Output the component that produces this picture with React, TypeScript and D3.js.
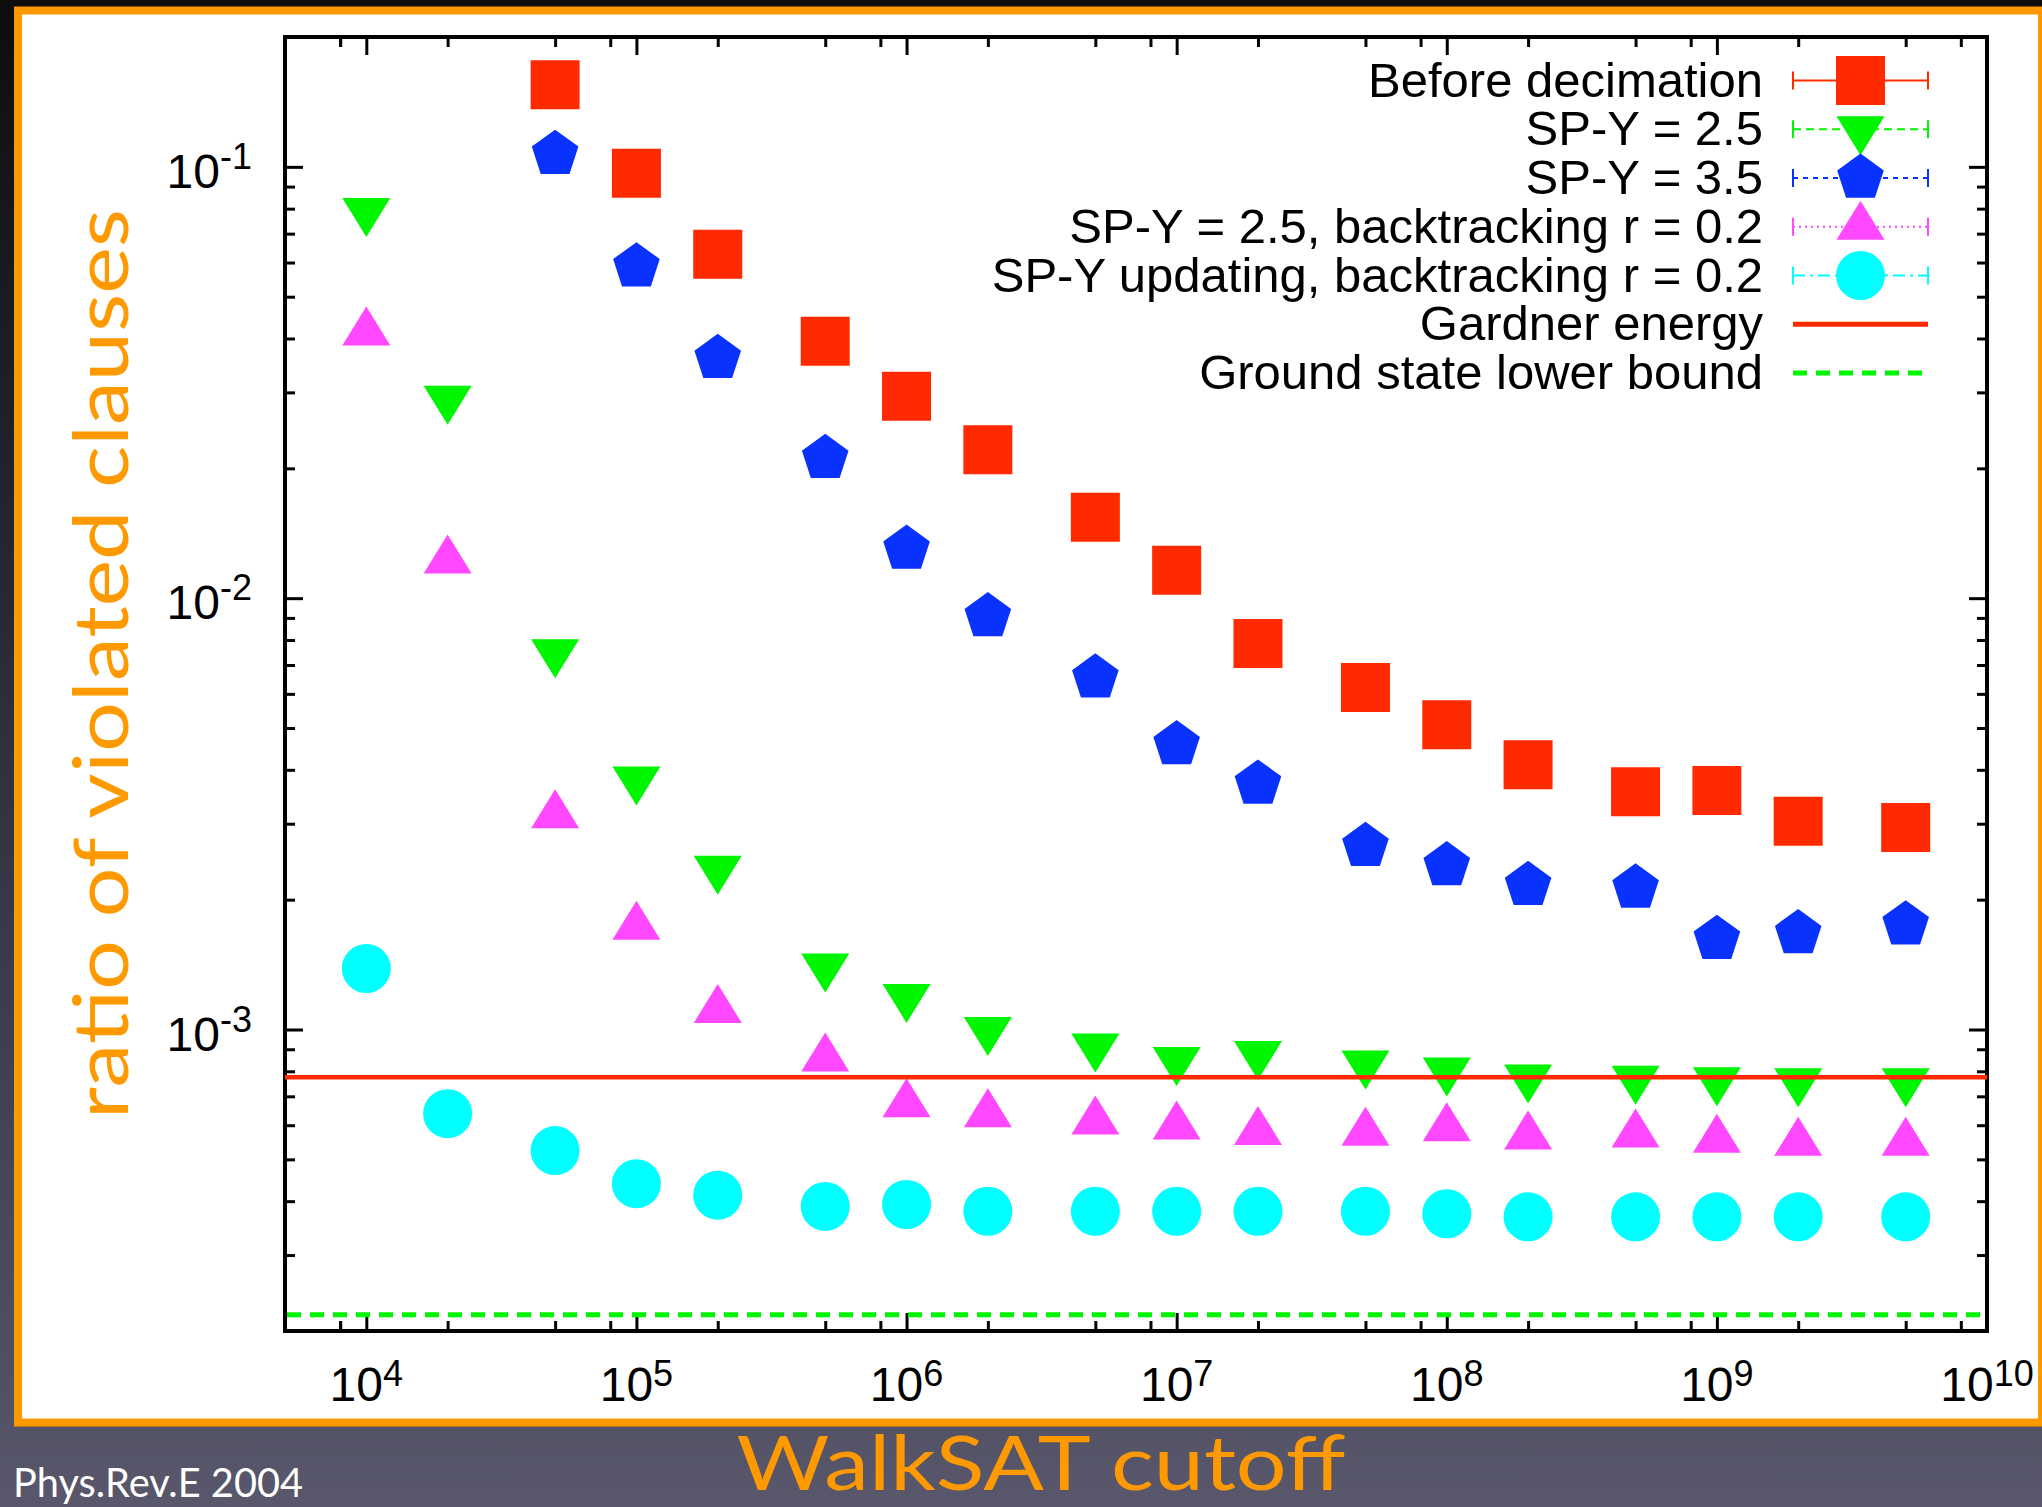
import React, { useEffect, useRef } from 'react';
import * as d3 from 'd3';

// WalkSAT cutoff values at which the runs were measured
const cutoffs = [1e4, 2e4, 5e4, 1e5, 2e5, 5e5, 1e6, 2e6, 5e6, 1e7, 2e7, 5e7, 1e8, 2e8, 5e8, 1e9, 2e9, 5e9];
// these two series start at 5e4
const cutoffsLate = cutoffs.slice(2);

const beforeDecimation = [0.155, 0.0966, 0.0627, 0.0394, 0.0294, 0.0221, 0.0154, 0.0116, 0.00785, 0.00621,
  0.00509, 0.00411, 0.00356, 0.00358, 0.00304, 0.00294];
const spy35 = [0.107, 0.0587, 0.036, 0.0211, 0.013, 0.00907, 0.00654, 0.00458, 0.00371, 0.00266,
  0.0024, 0.00216, 0.00213, 0.00162, 0.00167, 0.00175];
const spy25 = [0.079, 0.029, 0.00749, 0.0038, 0.00236, 0.0014, 0.00119, 0.000997, 0.000913, 0.00085,
  0.000877, 0.000834, 0.000803, 0.000774, 0.000769, 0.000763, 0.000759, 0.000759];
const spy25Backtrack = [0.0413, 0.01223, 0.00314, 0.00173, 0.00111, 0.000857, 0.000671, 0.000636, 0.000612, 0.000596,
  0.000579, 0.000576, 0.00059, 0.000565, 0.000571, 0.000555, 0.000546, 0.000546];
const spyUpdating = [0.001385, 0.000638, 0.000524, 0.000439, 0.000413, 0.000389, 0.000393, 0.000379, 0.000379, 0.000379,
  0.000379, 0.000379, 0.000374, 0.000368, 0.000368, 0.000368, 0.000368, 0.000368];

const gardnerEnergy = 0.000775;
const groundLowerBound = 0.000218;

const xMajorTicks = [1e4, 1e5, 1e6, 1e7, 1e8, 1e9, 1e10];
const xTickExponents = ['4', '5', '6', '7', '8', '9', '10'];
const yMajorTicks = [1e-3, 1e-2, 1e-1];
const yTickExponents = ['-3', '-2', '-1'];

const legendLabels = [
  'Before decimation',
  'SP-Y = 2.5',
  'SP-Y = 3.5',
  'SP-Y = 2.5, backtracking r = 0.2',
  'SP-Y updating, backtracking r = 0.2',
  'Gardner energy',
  'Ground state lower bound',
];

const W = 2042;
const H = 1507;
const plot = { left: 285, right: 1987, top: 37, bottom: 1331 };
const helv = '"Liberation Sans", Arial, Helvetica, sans-serif';
const orange = '#ff9900';

const colors = {
  red: '#ff2a00',
  green: '#00f500',
  blue: '#0a32ff',
  magenta: '#ff48ff',
  cyan: '#00ffff',
};

// marker shapes, centred the way gnuplot centres them
const square = (cx: number, cy: number) => {
  const h = 24.5;
  return `M${cx - h},${cy - h}H${cx + h}V${cy + h}H${cx - h}Z`;
};
const triDown = (cx: number, cy: number) =>
  `M${cx - 24},${cy - 13}L${cx + 24},${cy - 13}L${cx},${cy + 26}Z`;
const triUp = (cx: number, cy: number) =>
  `M${cx - 24},${cy + 13}L${cx + 24},${cy + 13}L${cx},${cy - 26}Z`;
const pentagon = (cx: number, cy: number) => {
  const r = 24.5;
  const pts = d3.range(5).map(k => {
    const a = -Math.PI / 2 + (k * 2 * Math.PI) / 5;
    return `${cx + r * Math.cos(a)},${cy + r * Math.sin(a)}`;
  });
  return `M${pts.join('L')}Z`;
};
const circle = (cx: number, cy: number) => {
  const r = 24.5;
  return `M${cx - r},${cy}A${r},${r} 0 1,0 ${cx + r},${cy}A${r},${r} 0 1,0 ${cx - r},${cy}Z`;
};

export default function App() {
  const ref = useRef<SVGSVGElement>(null);

  useEffect(() => {
    const svg = d3.select(ref.current);
    svg.selectAll('*').remove();

    const x = d3.scaleLog().domain([5000, 1e10]).range([plot.left, plot.right]);
    const y = d3.scaleLog().domain([2e-4, 0.2]).range([plot.bottom, plot.top]);

    // background + orange frame
    const grad = svg.append('defs').append('linearGradient')
      .attr('id', 'bg').attr('x1', 0).attr('y1', 0).attr('x2', 0).attr('y2', 1);
    grad.append('stop').attr('offset', '0').attr('stop-color', '#0d0d10');
    grad.append('stop').attr('offset', '0.45').attr('stop-color', '#2c2c3a');
    grad.append('stop').attr('offset', '1').attr('stop-color', '#58576b');
    svg.append('rect').attr('width', W).attr('height', H).attr('fill', 'url(#bg)');
    svg.append('rect')
      .attr('x', 18).attr('y', 10.5).attr('width', 2024).attr('height', 1412)
      .attr('fill', '#fff').attr('stroke', orange).attr('stroke-width', 8);

    // ticks, gnuplot style: pointing inwards on all four sides
    const xMinor = d3.merge([3, 4, 5, 6, 7, 8, 9].map(e => [2, 5, 8].map(m => m * 10 ** e)))
      .concat([8e3])
      .filter(v => v > 5000 && v < 1e10);
    const yMinor = d3.merge([-4, -3, -2, -1].map(e => d3.range(2, 10).map(m => m * 10 ** e)))
      .filter(v => v > 2.01e-4 && v < 0.199);

    const tidy = (g: any) => {
      g.select('.domain').remove();
      g.selectAll('text').remove();
      g.selectAll('line').attr('stroke', '#000').attr('stroke-width', 3);
    };
    const axes: [any, string][] = [
      [d3.axisBottom, `translate(0,${plot.bottom})`],
      [d3.axisTop, `translate(0,${plot.top})`],
    ];
    axes.forEach(([ax, tr]) => {
      svg.append('g').attr('transform', tr).call(ax(x).tickValues(xMajorTicks).tickSize(-18)).call(tidy);
      svg.append('g').attr('transform', tr).call(ax(x).tickValues(xMinor).tickSize(-10)).call(tidy);
    });
    const yAxes: [any, string][] = [
      [d3.axisLeft, `translate(${plot.left},0)`],
      [d3.axisRight, `translate(${plot.right},0)`],
    ];
    yAxes.forEach(([ax, tr]) => {
      svg.append('g').attr('transform', tr).call(ax(y).tickValues(yMajorTicks).tickSize(-18)).call(tidy);
      svg.append('g').attr('transform', tr).call(ax(y).tickValues(yMinor).tickSize(-10)).call(tidy);
    });

    svg.append('rect')
      .attr('x', plot.left).attr('y', plot.top)
      .attr('width', plot.right - plot.left).attr('height', plot.bottom - plot.top)
      .attr('fill', 'none').attr('stroke', '#000').attr('stroke-width', 4);

    // tick labels with superscript exponents
    xMajorTicks.forEach((v, i) => {
      const t = svg.append('text')
        .attr('x', x(v)).attr('y', 1401)
        .attr('text-anchor', 'middle')
        .attr('font-family', helv).attr('font-size', 48).attr('fill', '#000');
      t.append('tspan').text('10');
      t.append('tspan').attr('font-size', 36).attr('dy', -15).text(xTickExponents[i]);
    });
    yMajorTicks.forEach((v, i) => {
      const t = svg.append('text')
        .attr('x', 252).attr('y', y(v) + 21)
        .attr('text-anchor', 'end')
        .attr('font-family', helv).attr('font-size', 48).attr('fill', '#000');
      t.append('tspan').text('10');
      t.append('tspan').attr('font-size', 36).attr('dy', -19).text(yTickExponents[i]);
    });

    // data
    const series = [
      { xs: cutoffsLate, ys: beforeDecimation, shape: square, color: colors.red },
      { xs: cutoffs, ys: spy25, shape: triDown, color: colors.green },
      { xs: cutoffsLate, ys: spy35, shape: pentagon, color: colors.blue },
      { xs: cutoffs, ys: spy25Backtrack, shape: triUp, color: colors.magenta },
      { xs: cutoffs, ys: spyUpdating, shape: circle, color: colors.cyan },
    ];
    series.forEach(s => {
      svg.append('g').selectAll('path')
        .data(s.ys)
        .enter()
        .append('path')
        .attr('d', (d, i) => s.shape(x(s.xs[i]), y(d)))
        .attr('fill', s.color);
    });

    svg.append('line')
      .attr('x1', plot.left).attr('x2', plot.right)
      .attr('y1', y(gardnerEnergy)).attr('y2', y(gardnerEnergy))
      .attr('stroke', colors.red).attr('stroke-width', 4.5);
    svg.append('line')
      .attr('x1', plot.left + 2).attr('x2', plot.right)
      .attr('y1', y(groundLowerBound)).attr('y2', y(groundLowerBound))
      .attr('stroke', colors.green).attr('stroke-width', 5).attr('stroke-dasharray', '14,9');

    // legend
    const lx1 = 1793;
    const lx2 = 1928;
    const lmid = (lx1 + lx2) / 2;
    const legendStyle = [
      { dash: null, shape: square, color: colors.red, w: 2, caps: true },
      { dash: '8,5', shape: triDown, color: colors.green, w: 2, caps: true },
      { dash: '5,5', shape: pentagon, color: colors.blue, w: 2, caps: true },
      { dash: '2,4', shape: triUp, color: colors.magenta, w: 2, caps: true },
      { dash: '12,5,3,5', shape: circle, color: colors.cyan, w: 2, caps: true },
      { dash: null, shape: null, color: colors.red, w: 5, caps: false },
      { dash: '14,9', shape: null, color: colors.green, w: 5, caps: false },
    ];
    legendLabels.forEach((label, i) => {
      const cy = 80.5 + i * 48.75;
      const st = legendStyle[i];
      svg.append('text')
        .attr('x', 1763).attr('y', cy + 16)
        .attr('text-anchor', 'end')
        .attr('font-family', helv).attr('font-size', 49).attr('fill', '#000')
        .text(label);
      const ln = svg.append('line')
        .attr('x1', lx1).attr('x2', lx2).attr('y1', cy).attr('y2', cy)
        .attr('stroke', st.color).attr('stroke-width', st.w);
      if (st.dash) ln.attr('stroke-dasharray', st.dash);
      if (st.caps) {
        [lx1, lx2].forEach(cx => {
          svg.append('line')
            .attr('x1', cx).attr('x2', cx).attr('y1', cy - 9).attr('y2', cy + 9)
            .attr('stroke', st.color).attr('stroke-width', 2);
        });
      }
      if (st.shape) {
        svg.append('path').attr('d', st.shape(lmid, cy)).attr('fill', st.color);
      }
    });

    // slide titles
    svg.append('text')
      .attr('transform', `translate(128,664) rotate(-90)`)
      .attr('text-anchor', 'middle')
      .attr('font-family', 'Lato, "Open Sans", sans-serif')
      .attr('font-size', 76).attr('fill', orange)
      .attr('textLength', 910).attr('lengthAdjust', 'spacingAndGlyphs')
      .text('ratio of violated clauses');
    svg.append('text')
      .attr('x', 1041).attr('y', 1490)
      .attr('text-anchor', 'middle')
      .attr('font-family', 'Lato, "Open Sans", sans-serif')
      .attr('font-size', 76).attr('fill', orange)
      .attr('textLength', 609).attr('lengthAdjust', 'spacingAndGlyphs')
      .text('WalkSAT cutoff');
    svg.append('text')
      .attr('x', 13).attr('y', 1497)
      .attr('font-family', 'Lato, "Open Sans", sans-serif')
      .attr('font-size', 40).attr('fill', '#fff')
      .attr('textLength', 290).attr('lengthAdjust', 'spacingAndGlyphs')
      .text('Phys.Rev.E 2004');
  }, []);

  return (
    <svg
      ref={ref}
      width={W}
      height={H}
      style={{ position: 'absolute', left: 0, top: 0, display: 'block' }}
    />
  );
}
